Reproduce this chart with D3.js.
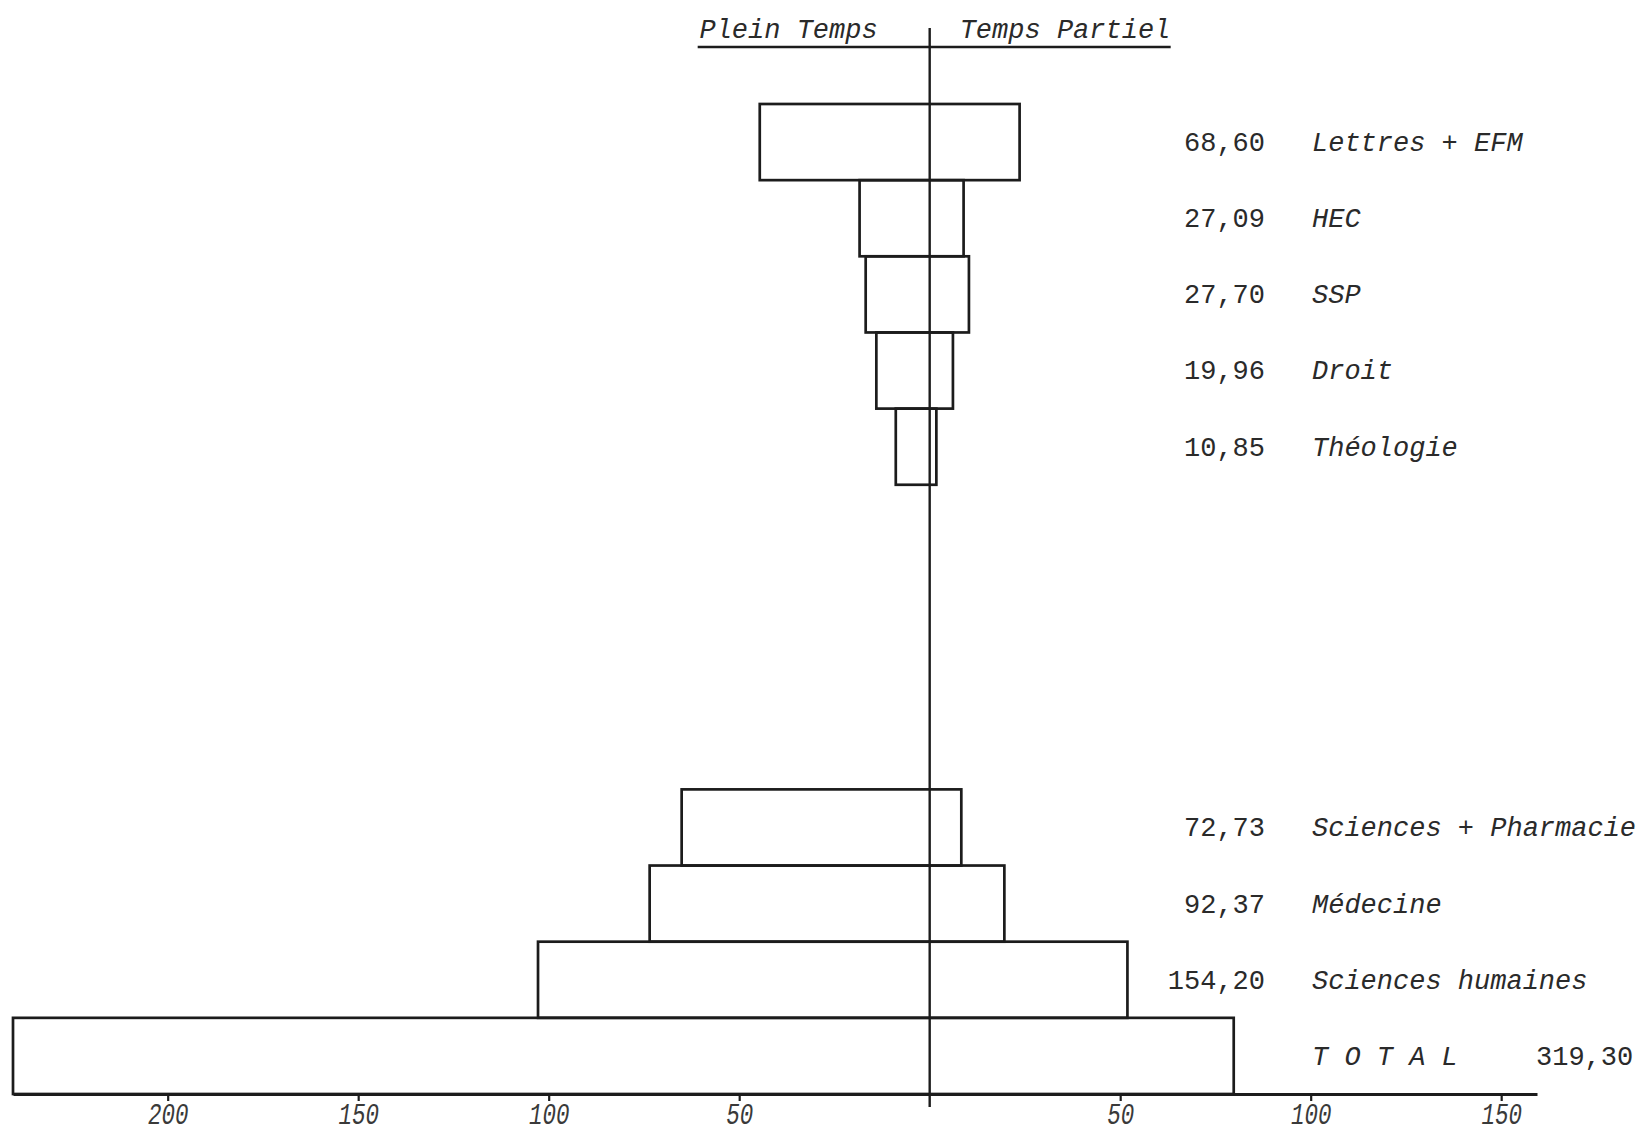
<!DOCTYPE html>
<html>
<head>
<meta charset="utf-8">
<script src="https://cdn.jsdelivr.net/npm/d3@7"></script>
<style>
  html, body { margin: 0; padding: 0; background: #fff; }
  svg { display: block; }
  text { font-family: "Courier New", "Liberation Mono", monospace; fill: #2a2a2a; }
</style>
</head>
<body>
<svg id="chart" width="1642" height="1134"></svg>
<script>
// ---- data ----
const upperCategories = ["Lettres + EFM", "HEC", "SSP", "Droit", "Théologie"];
const lowerCategories = ["Sciences + Pharmacie", "Médecine", "Sciences humaines", "T O T A L"];
const categories = upperCategories.concat(lowerCategories);
const totalLabels = ["68,60", "27,09", "27,70", "19,96", "10,85", "72,73", "92,37", "154,20", "319,30"];
const pleinTemps   = [44.6, 18.4, 16.8, 14.0, 8.9, 65.1, 73.5, 102.8, 240.6];
const tempsPartiel = [23.6, 8.9, 10.3, 6.1, 1.75, 8.3, 19.6, 51.9, 79.8];
const tickValues = [-200, -150, -100, -50, 50, 100, 150];
const headerLeft = "Plein Temps";
const headerRight = "Temps Partiel";

const rows = categories.map((c, i) => ({
  name: c, label: totalLabels[i], pt: pleinTemps[i], tp: tempsPartiel[i], isTotal: c === "T O T A L"
}));

// ---- layout ----
const svg = d3.select("#chart");
const ink = "#1c1c1c";

const x = d3.scaleLinear().domain([-240.6, 159.4]).range([13, 1537]);
const gapSlots = ["gap1", "gap2", "gap3", "gap4"];
const y = d3.scaleBand()
  .domain(upperCategories.concat(gapSlots, lowerCategories))
  .range([104, 1094])
  .padding(0);

const axisY = y.range()[1];
const cx = x(0);

// bars
svg.append("g").selectAll("rect").data(rows).join("rect")
  .attr("x", d => x(-d.pt))
  .attr("y", d => y(d.name))
  .attr("width", d => x(d.tp) - x(-d.pt))
  .attr("height", y.bandwidth())
  .attr("fill", "none")
  .attr("stroke", ink)
  .attr("stroke-width", 2.7);

// bottom axis
const axis = d3.axisBottom(x)
  .tickValues(tickValues)
  .tickSize(7)
  .tickSizeOuter(0)
  .tickFormat(d => String(Math.abs(d)));

const gAxis = svg.append("g").attr("transform", `translate(0,${axisY})`).call(axis);
gAxis.select(".domain").attr("stroke", ink).attr("stroke-width", 3.2);
gAxis.selectAll(".tick line").attr("stroke", ink).attr("stroke-width", 2.2);
gAxis.selectAll(".tick text")
  .attr("y", 30)
  .attr("dy", 0)
  .attr("transform", "scale(0.75,1)")
  .style("font-family", "\"Courier New\", \"Liberation Mono\", monospace")
  .style("font-style", "italic")
  .style("font-size", "30px")
  .style("fill", "#3a3a3a");

// center line
svg.append("line")
  .attr("x1", cx).attr("x2", cx)
  .attr("y1", 28).attr("y2", axisY + 13)
  .attr("stroke", ink).attr("stroke-width", 2.4);

// header
svg.append("text")
  .attr("x", cx - 52).attr("y", 38)
  .attr("text-anchor", "end")
  .style("font-style", "italic").style("font-size", "27px")
  .text(headerLeft);
svg.append("text")
  .attr("x", cx + 30).attr("y", 38)
  .attr("text-anchor", "start")
  .style("font-style", "italic").style("font-size", "27px")
  .text(headerRight);
svg.append("line")
  .attr("x1", cx - 232).attr("x2", cx + 241)
  .attr("y1", 47).attr("y2", 47)
  .attr("stroke", ink).attr("stroke-width", 2.4);

// labels
const labels = svg.append("g");
labels.selectAll("text.val").data(rows.filter(d => !d.isTotal)).join("text")
  .attr("class", "val")
  .attr("x", 1265)
  .attr("y", d => y(d.name) + y.bandwidth() / 2)
  .attr("dy", "0.33em")
  .attr("text-anchor", "end")
  .style("font-size", "27px")
  .text(d => d.label);

labels.selectAll("text.name").data(rows).join("text")
  .attr("class", "name")
  .attr("x", 1312)
  .attr("y", d => y(d.name) + y.bandwidth() / 2)
  .attr("dy", "0.33em")
  .attr("text-anchor", "start")
  .style("font-style", "italic")
  .style("font-size", "27px")
  .text(d => d.name);

labels.selectAll("text.totval").data(rows.filter(d => d.isTotal)).join("text")
  .attr("class", "totval")
  .attr("x", 1536)
  .attr("y", d => y(d.name) + y.bandwidth() / 2)
  .attr("dy", "0.33em")
  .attr("text-anchor", "start")
  .style("font-size", "27px")
  .text(d => d.label);
</script>
</body>
</html>
